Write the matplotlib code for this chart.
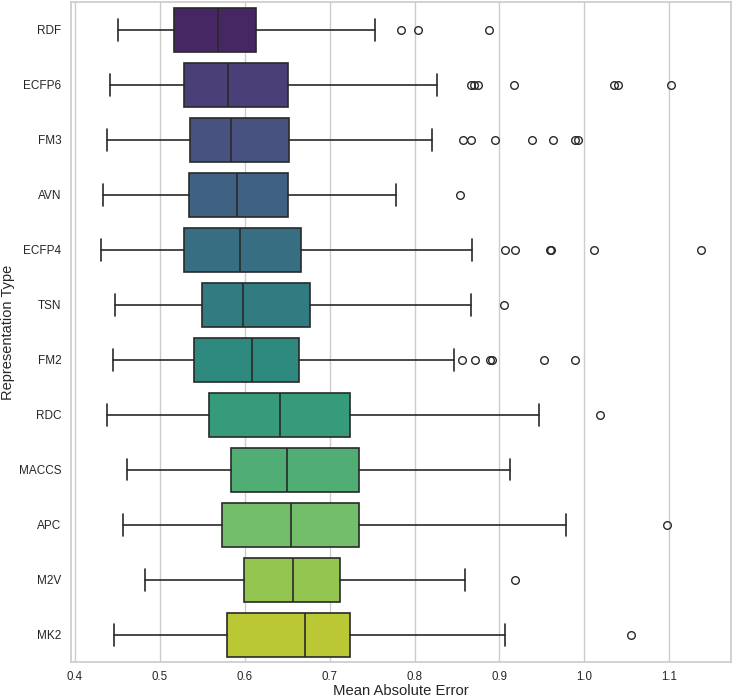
import colorsys
import matplotlib
matplotlib.use("Agg")
import matplotlib.pyplot as plt
import seaborn as sns

# Representation types, top to bottom
labels = ['RDF', 'ECFP6', 'FM3', 'AVN', 'ECFP4', 'TSN', 'FM2', 'RDC', 'MACCS', 'APC', 'M2V', 'MK2']

# box stats
whislo = [0.451, 0.442, 0.438, 0.433, 0.431, 0.447, 0.445, 0.438, 0.461, 0.457, 0.483, 0.446]
q1 = [0.517, 0.529, 0.536, 0.535, 0.529, 0.550, 0.540, 0.558, 0.584, 0.573, 0.599, 0.579]
med = [0.569, 0.581, 0.584, 0.591, 0.594, 0.598, 0.609, 0.642, 0.650, 0.655, 0.657, 0.671]
q3 = [0.613, 0.651, 0.652, 0.651, 0.666, 0.677, 0.664, 0.724, 0.735, 0.735, 0.712, 0.724]
whishi = [0.753, 0.827, 0.821, 0.778, 0.868, 0.866, 0.847, 0.946, 0.913, 0.978, 0.860, 0.907]
outliers = [
    [0.784, 0.804, 0.888],
    [0.866, 0.870, 0.875, 0.917, 1.035, 1.039, 1.102],
    [0.857, 0.866, 0.895, 0.938, 0.963, 0.989, 0.993],
    [0.853],
    [0.907, 0.918, 0.959, 0.961, 1.011, 1.137],
    [0.905],
    [0.856, 0.871, 0.889, 0.891, 0.953, 0.989],
    [1.018],
    [],
    [1.097],
    [0.918],
    [1.055],
]

sns.set_theme(style="whitegrid")
plt.rcParams['font.family'] = ['Liberation Sans', 'DejaVu Sans']

colors = sns.color_palette("viridis", len(labels), desat=0.75)
lum = min(colorsys.rgb_to_hls(*c)[1] for c in colors) * 0.6
line_color = (lum, lum, lum)

stats = []
for i, name in enumerate(labels):
    stats.append({'label': name, 'whislo': whislo[i], 'q1': q1[i], 'med': med[i],
                  'q3': q3[i], 'whishi': whishi[i], 'fliers': outliers[i]})

fig = plt.figure(figsize=(7.33, 6.99), dpi=100)
ax = fig.add_subplot(111)
fig.subplots_adjust(left=71/733, right=731/733, top=1-2/699, bottom=1-662/699)

bp = ax.bxp(stats, positions=range(len(labels)), vert=False, widths=0.8,
            capwidths=0.4, patch_artist=True,
            boxprops=dict(edgecolor=line_color, linewidth=1.2),
            medianprops=dict(color=line_color, linewidth=1.2),
            whiskerprops=dict(color=line_color, linewidth=1.2),
            capprops=dict(color=line_color, linewidth=1.2),
            flierprops=dict(marker='o', markerfacecolor='none', markeredgecolor=line_color,
                            markersize=5.5, markeredgewidth=1.0))
for patch, c in zip(bp['boxes'], colors):
    patch.set_facecolor(c)

ax.set_ylim(len(labels) - 0.5, -0.5)
ax.set_xlim(0.3956, 1.1726)
ax.set_xticks([0.4, 0.5, 0.6, 0.7, 0.8, 0.9, 1.0, 1.1])
ax.set_xticklabels(['0.4', '0.5', '0.6', '0.7', '0.8', '0.9', '1.0', '1.1'])
ax.set_yticks(range(len(labels)))
ax.set_yticklabels(labels)
ax.grid(axis='y', visible=False)
ax.grid(axis='x', color='.8', linewidth=1.0)
ax.tick_params(axis='y', labelsize=8.5, length=0, pad=7)
ax.tick_params(axis='x', labelsize=8.3, length=0, pad=6.3)
ax.set_xlabel('Mean Absolute Error', fontsize=10.7)
ax.set_ylabel('Representation Type', fontsize=10.5)
ax.xaxis.set_label_coords(0.5, -0.033)
ax.yaxis.set_label_coords(-0.085, 0.5)

fig.savefig('out.png', dpi=100)
